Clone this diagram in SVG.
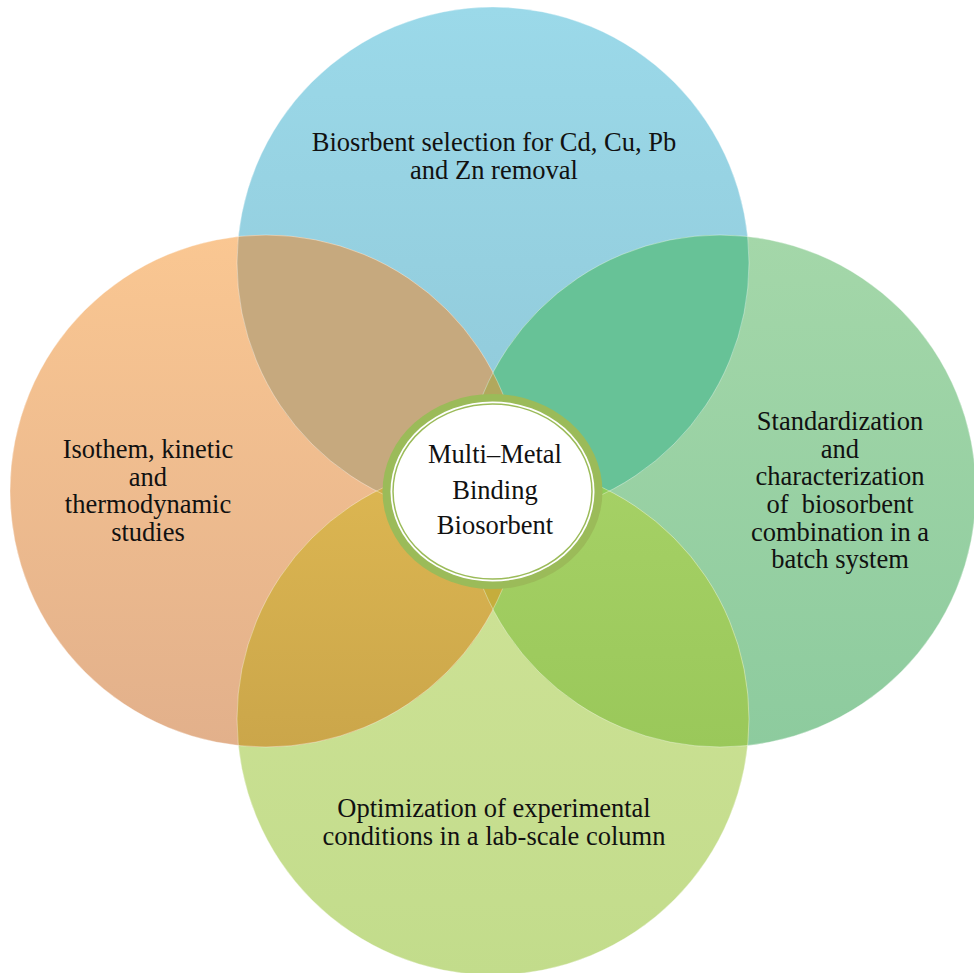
<svg xmlns="http://www.w3.org/2000/svg" width="974" height="973" viewBox="0 0 974 973">
<style>
  .lbl { font-family: "Liberation Serif", "Times New Roman", serif; font-size: 26.5px; fill: #111; text-anchor: middle; }
  .ctr { font-size: 26.5px; }
  .edge { fill: none; stroke: #ffffff; stroke-opacity: 0.35; stroke-width: 1; }
</style>
<defs>
  <linearGradient id="gT" x1="0" y1="0" x2="0" y2="1">
    <stop offset="0" stop-color="#9bd9e9"/>
    <stop offset="1" stop-color="#8fc7d7"/>
  </linearGradient>
  <linearGradient id="gL" x1="0" y1="0" x2="0" y2="1">
    <stop offset="0" stop-color="#fac792"/>
    <stop offset="1" stop-color="#e2b08b"/>
  </linearGradient>
  <linearGradient id="gR" x1="0" y1="0" x2="0" y2="1">
    <stop offset="0" stop-color="#a4d7a9"/>
    <stop offset="1" stop-color="#8dcb9e"/>
  </linearGradient>
  <linearGradient id="gB" x1="0" y1="0" x2="0" y2="1">
    <stop offset="0" stop-color="#d0e398"/>
    <stop offset="1" stop-color="#c2dc8b"/>
  </linearGradient>
  <linearGradient id="gBL" gradientUnits="userSpaceOnUse" x1="0" y1="463" x2="0" y2="747">
    <stop offset="0" stop-color="#ddb752"/>
    <stop offset="1" stop-color="#cba64a"/>
  </linearGradient>
  <linearGradient id="gBR" gradientUnits="userSpaceOnUse" x1="0" y1="463" x2="0" y2="747">
    <stop offset="0" stop-color="#a6d166"/>
    <stop offset="1" stop-color="#9ac85a"/>
  </linearGradient>
  <clipPath id="cT"><circle cx="493" cy="263" r="256"/></clipPath>
  <clipPath id="cL"><circle cx="266" cy="491" r="256"/></clipPath>
  <clipPath id="cR"><circle cx="720" cy="491" r="256"/></clipPath>
  <clipPath id="cB"><circle cx="493" cy="719" r="256"/></clipPath>
</defs>

<g id="circle-top"><circle cx="493" cy="263" r="256" fill="url(#gT)"/></g>
<g id="circle-right"><circle cx="720" cy="491" r="256" fill="url(#gR)"/></g>
<g id="circle-bottom"><circle cx="493" cy="719" r="256" fill="url(#gB)"/></g>
<g id="circle-left"><circle cx="266" cy="491" r="256" fill="url(#gL)"/></g>

<g id="overlaps">
  <circle cx="266" cy="491" r="256" fill="#c6a97e" clip-path="url(#cT)"/>
  <circle cx="720" cy="491" r="256" fill="#67c297" clip-path="url(#cT)"/>
  <circle cx="266" cy="491" r="256" fill="url(#gBL)" clip-path="url(#cB)"/>
  <circle cx="720" cy="491" r="256" fill="url(#gBR)" clip-path="url(#cB)"/>
  <g clip-path="url(#cT)"><circle cx="720" cy="491" r="256" fill="#b1a85d" clip-path="url(#cL)"/></g>
  <g clip-path="url(#cB)"><circle cx="720" cy="491" r="256" fill="#c5ad3c" clip-path="url(#cL)"/></g>
  <g clip-path="url(#cT)"><circle cx="266" cy="491" r="256" fill="#d0ac4a" clip-path="url(#cB)"/></g>
  <g clip-path="url(#cT)"><circle cx="720" cy="491" r="256" fill="#8fcd58" clip-path="url(#cB)"/></g>
  <circle class="edge" cx="493" cy="263" r="256"/>
  <circle class="edge" cx="720" cy="491" r="256"/>
  <circle class="edge" cx="493" cy="719" r="256"/>
  <circle class="edge" cx="266" cy="491" r="256"/>
</g>

<g id="label-top">
  <text class="lbl" x="494" y="151">Biosrbent selection for Cd, Cu, Pb</text>
  <text class="lbl" x="494" y="179">and Zn removal</text>
</g>
<g id="label-left">
  <text class="lbl" x="148" y="458">Isothem, kinetic</text>
  <text class="lbl" x="148" y="486">and</text>
  <text class="lbl" x="148" y="513">thermodynamic</text>
  <text class="lbl" x="148" y="541">studies</text>
</g>
<g id="label-right">
  <text class="lbl" x="840" y="430">Standardization</text>
  <text class="lbl" x="840" y="458">and</text>
  <text class="lbl" x="840" y="485">characterization</text>
  <text class="lbl" x="840" y="513" xml:space="preserve">of  biosorbent</text>
  <text class="lbl" x="840" y="541">combination in a</text>
  <text class="lbl" x="840" y="568">batch system</text>
</g>
<g id="label-bottom">
  <text class="lbl" x="494" y="817">Optimization of experimental</text>
  <text class="lbl" x="494" y="845">conditions in a lab-scale column</text>
</g>

<g id="center">
  <ellipse cx="492.5" cy="491.5" rx="110" ry="97.5" fill="#9bbb59"/>
  <ellipse cx="492.5" cy="491.5" rx="102" ry="90" fill="#ffffff"/>
  <ellipse cx="492.5" cy="491.5" rx="99.5" ry="87.5" fill="#ffffff" stroke="#9bbb59" stroke-width="1.5"/>
  <text class="lbl ctr" x="495" y="463">Multi–Metal</text>
  <text class="lbl ctr" x="495" y="499">Binding</text>
  <text class="lbl ctr" x="495" y="534">Biosorbent</text>
</g>
</svg>
